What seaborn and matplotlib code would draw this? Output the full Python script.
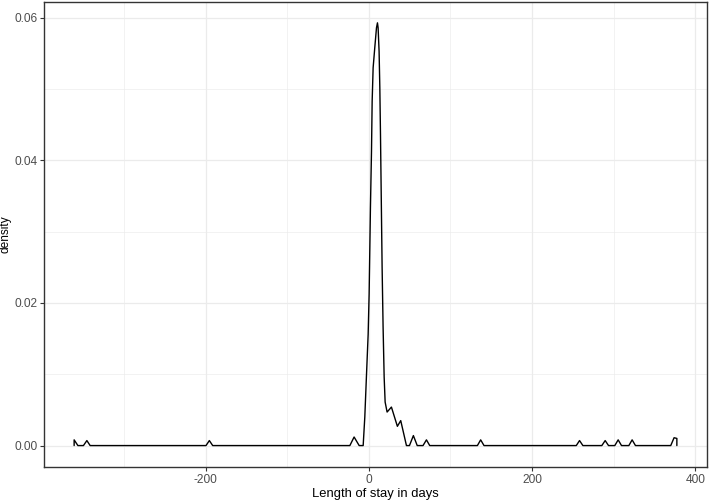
import matplotlib
matplotlib.use("Agg")
import matplotlib.pyplot as plt
import seaborn as sns
import pandas as pd
from matplotlib.ticker import FixedLocator

# Density curve (length of stay in days vs density)
stay_days = [-360.9, -360.9, -356.3, -349.5, -345.3, -341.3, -199.4, -195.3, -191.2,
             -23.2, -18.0, -11.8, -6.9, -4.9, -2.8, -0.8, 0.4, 1.2, 2.0, 3.3, 4.1, 5.3,
             7.3, 9.4, 10.6, 11.4, 12.6, 13.5, 14.3, 15.1, 16.3, 17.5, 18.8, 20.0,
             22.4, 27.7, 35.0, 39.1, 46.1, 49.8, 54.6, 59.3, 66.4, 70.6, 74.6,
             133.0, 137.0, 141.1, 254.1, 258.1, 262.2, 285.4, 289.5, 293.6,
             301.3, 305.4, 309.5, 318.5, 322.5, 326.6, 369.8, 373.9, 377.3, 377.3]
density = [0, 0.0008, 0, 0, 0.0007, 0, 0, 0.0007, 0,
           0, 0.0012, 0, 0, 0.0040, 0.0100, 0.0156, 0.0213, 0.0273, 0.0334, 0.0413, 0.0483, 0.0530,
           0.0558, 0.0586, 0.0593, 0.0586, 0.0553, 0.0502, 0.0437, 0.0362, 0.0250, 0.0166, 0.0096, 0.0061,
           0.0047, 0.0054, 0.0027, 0.0035, 0, 0, 0.0014, 0, 0, 0.0008, 0,
           0, 0.0008, 0, 0, 0.0007, 0, 0, 0.0007, 0,
           0, 0.0008, 0, 0, 0.0008, 0, 0, 0.0011, 0.0010, 0]

x_ticks = [-200, 0, 200, 400]
x_tick_labels = ["-200", "0", "200", "400"]
x_minor = [-300, -100, 100, 300]
y_ticks = [0.00, 0.02, 0.04, 0.06]
y_tick_labels = ["0.00", "0.02", "0.04", "0.06"]
y_minor = [0.01, 0.03, 0.05]
x_label = "Length of stay in days"
y_label = "density"

sns.set_theme(style="white")
plt.rcParams["font.family"] = ["Liberation Sans", "DejaVu Sans"]

W, H = 709, 503
fig = plt.figure(figsize=(W / 100, H / 100), dpi=100)
left, right, top, bottom = 44, 707, 1.7, 466.7
ax = fig.add_axes([left / W, 1 - bottom / H, (right - left) / W, (bottom - top) / H])

df = pd.DataFrame({"days": stay_days, "density": density})
sns.lineplot(data=df, x="days", y="density", sort=False, estimator=None,
             color="black", linewidth=1.0, ax=ax)

ax.margins(x=0.05, y=0.05)
ax.set_xticks(x_ticks)
ax.set_xticklabels(x_tick_labels)
ax.set_yticks(y_ticks)
ax.set_yticklabels(y_tick_labels)
ax.xaxis.set_minor_locator(FixedLocator(x_minor))
ax.yaxis.set_minor_locator(FixedLocator(y_minor))

ax.set_axisbelow(True)
ax.grid(which="major", color="#EBEBEB", linewidth=0.9)
ax.grid(which="minor", color="#EBEBEB", linewidth=0.45)
ax.tick_params(which="major", bottom=True, left=True, length=2.9, width=0.8,
               color="#333333", labelcolor="#4D4D4D", labelsize=8.6, pad=2)
ax.tick_params(which="minor", length=0)

for s in ax.spines.values():
    s.set_visible(True)
    s.set_color("#333333")
    s.set_linewidth(1.0)

ax.set_xlabel(x_label, fontsize=9.4, color="black", labelpad=2)
ax.set_ylabel(y_label, fontsize=8.6, color="black", labelpad=2)
ax.set_facecolor("white")
fig.patch.set_facecolor("white")

fig.savefig("out.png", dpi=100, facecolor="white")
